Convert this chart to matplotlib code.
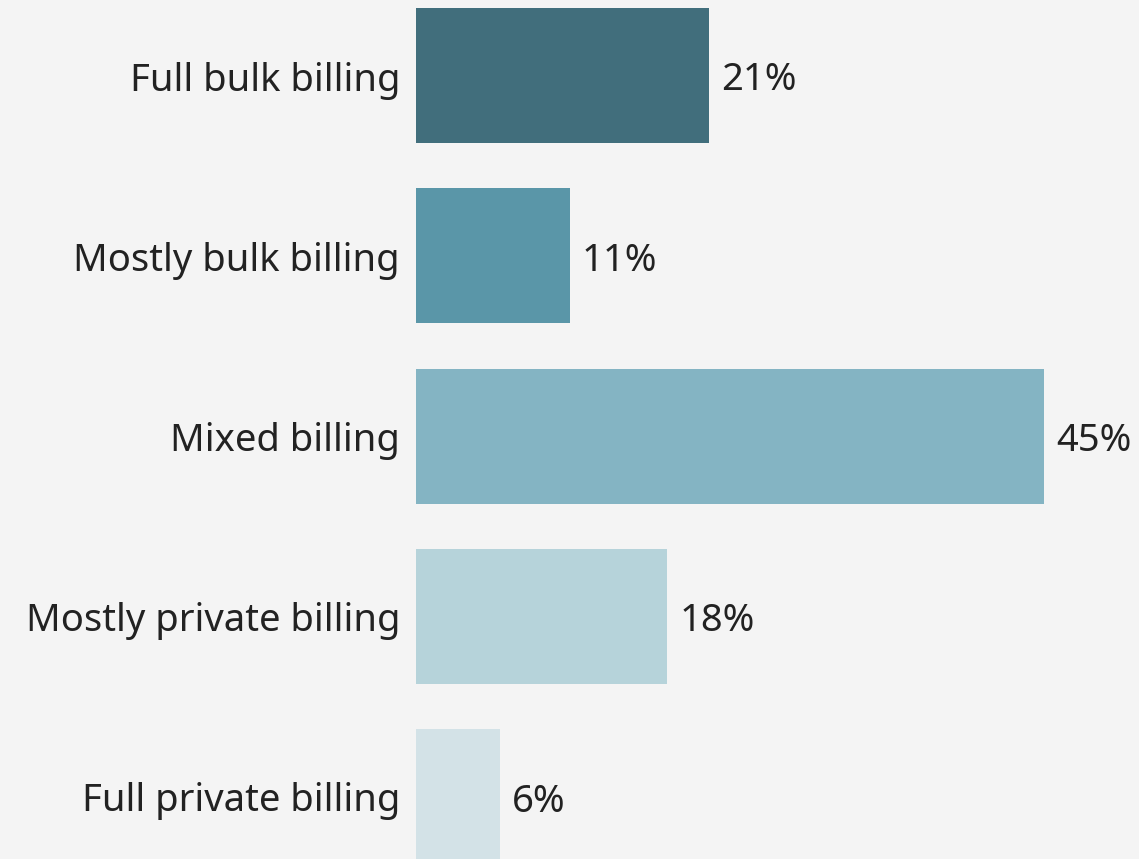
import matplotlib.pyplot as plt

categories = ['Full bulk billing', 'Mostly bulk billing', 'Mixed billing',
              'Mostly private billing', 'Full private billing']
shares = [21, 11, 45, 18, 6]
bar_colors = ['#416e7c', '#5a96a8', '#84b4c3', '#b6d3da', '#d3e2e7']

plt.rcParams['font.family'] = ['Noto Sans', 'DejaVu Sans']

W, H = 1139, 859
fig = plt.figure(figsize=(W / 100, H / 100), dpi=100, facecolor='#f4f4f4')

# axes spans the bar area; zero sits at x=416 px, 45% at x=1044 px
x0, x1 = 416, 1044
ax = fig.add_axes([x0 / W, 0, (x1 - x0) / W, 1])
ax.set_facecolor('#f4f4f4')

pitch = 180.25
y_top = -75.5 / pitch
y_bot = (len(categories) - 1) + (H - 796.5) / pitch

pos = list(range(len(categories)))
ax.barh(pos, shares, height=135 / pitch, color=bar_colors, zorder=2)
ax.set_xlim(0, 45)
ax.set_ylim(y_bot, y_top)

for p, cat, v in zip(pos, categories, shares):
    ax.annotate(cat, xy=(0, p), xytext=(-16, -5), textcoords='offset pixels',
                ha='right', va='center', fontsize=27.5, color='#222222',
                annotation_clip=False)
    ax.annotate(f'{v}%', xy=(v, p), xytext=(12, -5), textcoords='offset pixels',
                ha='left', va='center', fontsize=27.5, color='#222222',
                annotation_clip=False)

ax.axis('off')
fig.savefig('out.png', dpi=100, facecolor=fig.get_facecolor())
